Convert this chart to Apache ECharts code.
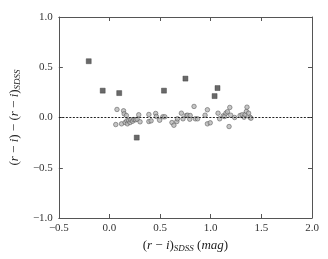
<!DOCTYPE html>
<html><head><meta charset="utf-8">
<script src="https://cdn.jsdelivr.net/npm/echarts@6/dist/echarts.min.js"></script>
<style>html,body{margin:0;padding:0;background:#fff}#c{width:328px;height:259px}</style>
</head><body><div id="c"></div>
<script>
const xTicks = [-0.5, 0.0, 0.5, 1.0, 1.5, 2.0];
const yTicks = [-1.0, -0.5, 0.0, 0.5, 1.0];
const squareX = [-0.205, -0.067, 0.096, 0.269, 0.538, 0.75, 1.038, 1.067];
const squareY = [0.56, 0.267, 0.243, -0.2, 0.267, 0.387, 0.213, 0.293];
const circleX = [0.062,0.074,0.119,0.139,0.145,0.155,0.167,0.171,0.177,0.19,0.203,0.212,0.228,0.241,0.257,0.273,0.289,0.302,0.389,0.389,0.411,0.456,0.463,0.495,0.527,0.546,0.617,0.636,0.665,0.671,0.71,0.726,0.758,0.771,0.793,0.797,0.835,0.848,0.87,0.944,0.967,0.967,0.995,1.072,1.088,1.124,1.137,1.15,1.165,1.181,1.188,1.197,1.236,1.29,1.31,1.329,1.339,1.352,1.358,1.374,1.387,1.397];
const circleY = [-0.07,0.08,-0.063,0.067,0.037,-0.05,0.02,-0.033,-0.063,-0.03,-0.05,-0.023,-0.037,-0.02,-0.023,-0.017,0.027,-0.043,0.03,-0.04,-0.033,0.04,0.01,-0.027,0.007,0.007,-0.05,-0.077,-0.04,-0.013,0.043,-0.013,0.02,0.023,-0.017,0.02,0.11,-0.013,-0.013,0.023,0.077,-0.063,-0.053,0.043,-0.013,0.017,0.01,0.043,0.057,-0.09,0.1,0.023,0,0.02,0.027,0.003,0.03,0.06,0.103,0.043,0.003,-0.007];
const zeroLevel = 0;

const FONT = 'Liberation Serif';
const fmt = v => v.toFixed(1).replace('-', '\u2212');
const frame = '#555';
const rich = {
  n: {fontFamily: FONT, fontSize: 13, color: '#222'},
  i: {fontFamily: FONT, fontSize: 13, fontStyle: 'italic', color: '#222'},
  s: {fontFamily: FONT, fontSize: 9, fontStyle: 'italic', color: '#222', padding: [6, 0, 0, 0]}
};
const chart = echarts.init(document.getElementById('c'), null, {renderer: 'canvas'});
const baseX = {
  type: 'value', min: xTicks[0], max: xTicks[xTicks.length - 1], interval: 0.5,
  axisLine: {show: true, onZero: false, lineStyle: {color: frame, width: 1}},
  axisTick: {show: true, inside: true, length: 4, lineStyle: {color: frame}},
  splitLine: {show: false}
};
const baseY = {
  type: 'value', min: yTicks[0], max: yTicks[yTicks.length - 1], interval: 0.5,
  axisLine: {show: true, onZero: false, lineStyle: {color: frame, width: 1}},
  axisTick: {show: true, inside: true, length: 4, lineStyle: {color: frame}},
  splitLine: {show: false}
};
chart.setOption({
  animation: false,
  grid: {left: 52, top: 17, right: 16, bottom: 41},
  xAxis: [
    Object.assign({}, baseX, {position: 'bottom',
      axisLabel: {formatter: fmt, fontFamily: FONT, fontSize: 11, color: '#333', margin: 5},
      name: '{n|(}{i|r}{n| \u2212 }{i|i}{n|)}{s|SDSS}{n| (}{i|mag}{n|)}',
      nameLocation: 'middle', nameGap: 20,
      nameTextStyle: {rich: rich}}),
    Object.assign({}, baseX, {position: 'top', axisLabel: {show: false}})
  ],
  yAxis: [
    Object.assign({}, baseY, {position: 'left',
      axisLabel: {formatter: fmt, fontFamily: FONT, fontSize: 11, color: '#333', margin: 6},
      name: '{n|(}{i|r}{n| \u2212 }{i|i}{n|) \u2212 (}{i|r}{n| \u2212 }{i|i}{n|)}{s|SDSS}',
      nameLocation: 'middle', nameRotate: 90, nameGap: 31,
      nameTextStyle: {rich: rich}}),
    Object.assign({}, baseY, {position: 'right', axisLabel: {show: false}})
  ],
  series: [
    {
      type: 'scatter', xAxisIndex: 0, yAxisIndex: 0,
      data: circleX.map((x, k) => [x, circleY[k]]),
      symbol: 'circle', symbolSize: 4.5,
      itemStyle: {color: '#b8b8b8', borderColor: '#555', borderWidth: 0.7},
      markLine: {
        silent: true, symbol: 'none', label: {show: false},
        lineStyle: {color: '#222', type: [2, 1.5], width: 1},
        data: [{yAxis: zeroLevel}]
      },
      z: 3
    },
    {
      type: 'scatter', xAxisIndex: 0, yAxisIndex: 0,
      data: squareX.map((x, k) => [x, squareY[k]]),
      symbol: 'rect', symbolSize: 5,
      itemStyle: {color: '#444', borderColor: '#333', borderWidth: 0.5},
      z: 4
    }
  ]
});
</script></body></html>
